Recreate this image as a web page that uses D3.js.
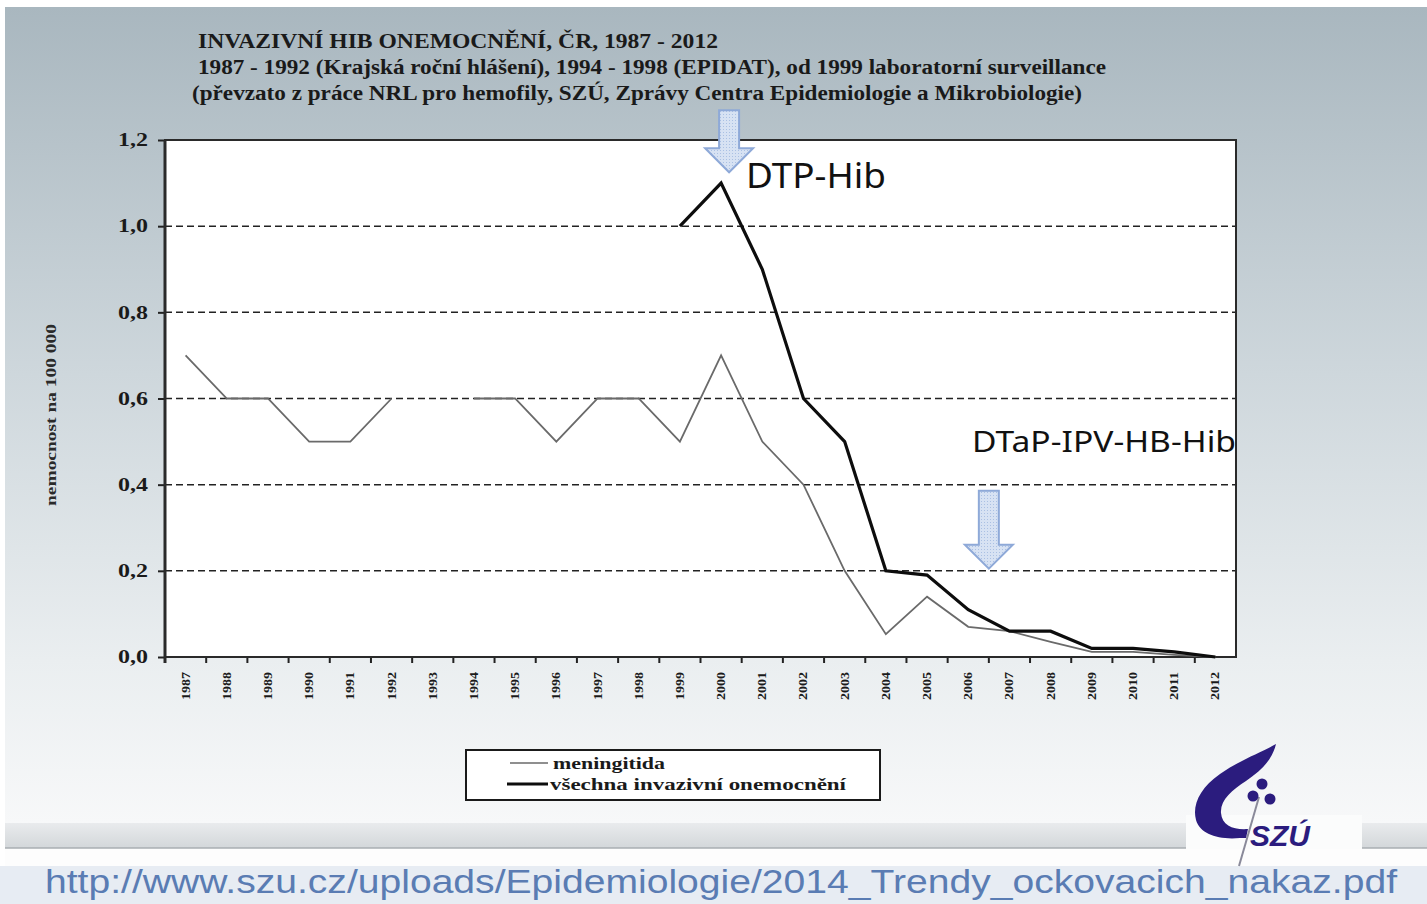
<!DOCTYPE html>
<head>
  <meta charset="utf-8">
  <title>Invazivni Hib onemocneni</title>
  <script src="https://cdn.jsdelivr.net/npm/d3@7/dist/d3.min.js"></script>
  <style>
    body { margin: 0; background: #fff; }
    svg { display: block; }
  </style>
</head>

<body>

  <script type="text/javascript">
    var WIDTH = 1427;
    var HEIGHT = 904;

    //===========data
    var years = ["1987","1988","1989","1990","1991","1992","1993","1994","1995","1996","1997","1998","1999",
                 "2000","2001","2002","2003","2004","2005","2006","2007","2008","2009","2010","2011","2012"];
    // null = no data that year
    var meningitida = [0.7, 0.6, 0.6, 0.5, 0.5, 0.6, null, 0.6, 0.6, 0.5, 0.6, 0.6, 0.5,
                       0.7, 0.5, 0.4, 0.2, 0.053, 0.14, 0.07, 0.06, 0.035, 0.012, 0.012, 0.005, 0.0];
    var vsechna = [null, null, null, null, null, null, null, null, null, null, null, null, 1.0,
                   1.1, 0.9, 0.6, 0.5, 0.2, 0.19, 0.11, 0.06, 0.06, 0.02, 0.02, 0.012, 0.0];
    var yTicks = [0, 0.2, 0.4, 0.6, 0.8, 1.0, 1.2];
    var titleLines = ["INVAZIVNÍ HIB ONEMOCNĚNÍ, ČR, 1987 - 2012",
                      "1987 - 1992 (Krajská roční hlášení), 1994 - 1998 (EPIDAT), od 1999 laboratorní surveillance",
                      "(převzato z práce  NRL pro hemofily, SZÚ, Zprávy Centra Epidemiologie a Mikrobiologie)"];
    var seriesNames = ["meningitida", "všechna invazivní onemocnění"];
    var vaccines = [{name: "DTP-Hib", year: "2000", edge: false, value: 1.125},
                    {name: "DTaP-IPV-HB-Hib", year: "2007", edge: true, value: 0.205}];
    var sourceUrl = "http://www.szu.cz/uploads/Epidemiologie/2014_Trendy_ockovacich_nakaz.pdf";

    var svg = d3.select("body").append("svg")
                .attr("width", WIDTH)
                .attr("height", HEIGHT);

    //===========slide background
    var defs = svg.append("defs");
    var bg = defs.append("linearGradient").attr("id", "bg")
                 .attr("x1", 0).attr("y1", 0).attr("x2", 0).attr("y2", 1);
    bg.append("stop").attr("offset", "0%").attr("stop-color", "#a9b7bf");
    bg.append("stop").attr("offset", "45%").attr("stop-color", "#ced7dc");
    bg.append("stop").attr("offset", "80%").attr("stop-color", "#eaeef0");
    bg.append("stop").attr("offset", "100%").attr("stop-color", "#f7f8f9");
    var band = defs.append("linearGradient").attr("id", "band")
                   .attr("x1", 0).attr("y1", 0).attr("x2", 0).attr("y2", 1);
    band.append("stop").attr("offset", "0%").attr("stop-color", "#e9ebed");
    band.append("stop").attr("offset", "100%").attr("stop-color", "#d3d7da");
    var arrowFill = defs.append("pattern").attr("id", "arrowFill")
                        .attr("width", 3).attr("height", 3).attr("patternUnits", "userSpaceOnUse");
    arrowFill.append("rect").attr("width", 3).attr("height", 3).attr("fill", "#d7e2f3");
    arrowFill.append("rect").attr("width", 1).attr("height", 1).attr("fill", "#aac0e3");

    svg.append("rect").attr("x", 0).attr("y", 0).attr("width", WIDTH).attr("height", HEIGHT).attr("fill", "#fff");
    svg.append("rect").attr("x", 5).attr("y", 7).attr("width", WIDTH - 5).attr("height", 816).attr("fill", "url(#bg)");
    svg.append("rect").attr("x", 5).attr("y", 823).attr("width", WIDTH - 5).attr("height", 25).attr("fill", "url(#band)");
    svg.append("line").attr("x1", 5).attr("x2", WIDTH).attr("y1", 848).attr("y2", 848)
       .attr("stroke", "#a9aeb2").attr("stroke-width", 1.5);
    svg.append("rect").attr("x", 5).attr("y", 849).attr("width", WIDTH - 5).attr("height", 17).attr("fill", "#fdfdfd");
    svg.append("rect").attr("x", 0).attr("y", 866).attr("width", WIDTH).attr("height", 38).attr("fill", "#e7ecf3");

    //===========title
    var titleWidths = [520, 908, 890];
    var titleX = [198, 198, 192];
    svg.append("g").selectAll("text")
       .data(titleLines)
       .enter().append("text")
       .attr("x", function(d, i){ return titleX[i]; })
       .attr("y", function(d, i){ return 48 + i * 26; })
       .attr("textLength", function(d, i){ return titleWidths[i]; })
       .attr("lengthAdjust", "spacingAndGlyphs")
       .attr("font-family", "Liberation Serif, serif")
       .attr("font-weight", "bold")
       .attr("font-size", 20)
       .attr("fill", "#1a1a1a")
       .text(function(d){ return d; });

    //===========scales
    var PL = 165, PR = 1236, PT = 140, PB = 657;
    var x = d3.scaleBand().domain(years).range([PL, PR]).padding(0);
    var y = d3.scaleLinear().domain([0, 1.2]).range([PB, PT]);
    function cx(yr){ return x(yr) + x.bandwidth() / 2; }

    // plot area
    svg.append("rect").attr("x", PL).attr("y", PT).attr("width", PR - PL).attr("height", PB - PT)
       .attr("fill", "#fff");

    // dashed gridlines
    svg.append("g").selectAll("line")
       .data(yTicks.filter(function(d){ return d > 0 && d < 1.2; }))
       .enter().append("line")
       .attr("x1", PL).attr("x2", PR)
       .attr("y1", function(d){ return y(d); })
       .attr("y2", function(d){ return y(d); })
       .attr("stroke", "#222").attr("stroke-width", 1.5)
       .attr("stroke-dasharray", "7,4");

    // y axis
    var yAxis = d3.axisLeft(y)
                  .tickValues(yTicks)
                  .tickSize(7)
                  .tickFormat(function(d){ return d3.format(".1f")(d).replace(".", ","); });
    var gy = svg.append("g").attr("transform", "translate(" + PL + ",0)").call(yAxis);
    gy.select(".domain").remove();
    gy.selectAll(".tick line").attr("stroke", "#222").attr("stroke-width", 2);
    gy.selectAll(".tick text")
      .attr("x", -17).attr("dy", "0.3em")
      .attr("textLength", 30).attr("lengthAdjust", "spacingAndGlyphs")
      .attr("font-family", "Liberation Serif, serif")
      .attr("font-weight", "bold").attr("font-size", 19).attr("fill", "#1a1a1a");

    // x axis: ticks at category boundaries, labels rotated
    var gx = svg.append("g");
    gx.selectAll("line")
      .data(years.slice(1))
      .enter().append("line")
      .attr("x1", function(d){ return x(d); })
      .attr("x2", function(d){ return x(d); })
      .attr("y1", PB).attr("y2", PB + 6)
      .attr("stroke", "#222").attr("stroke-width", 2);
    gx.selectAll("text")
      .data(years)
      .enter().append("text")
      .attr("transform", function(d){ return "translate(" + (cx(d) + 4) + "," + (PB + 15) + ") rotate(-90)"; })
      .attr("text-anchor", "end")
      .attr("textLength", 28)
      .attr("lengthAdjust", "spacingAndGlyphs")
      .attr("font-family", "Liberation Serif, serif")
      .attr("font-weight", "bold").attr("font-size", 13).attr("fill", "#1a1a1a")
      .text(function(d){ return d; });

    // frame
    svg.append("rect").attr("x", PL).attr("y", PT).attr("width", PR - PL).attr("height", PB - PT)
       .attr("fill", "none").attr("stroke", "#2a2a2a").attr("stroke-width", 2);
    svg.append("line").attr("x1", PL).attr("x2", PL).attr("y1", PT).attr("y2", PB + 6)
       .attr("stroke", "#2a2a2a").attr("stroke-width", 3);

    // y label
    svg.append("text")
       .attr("transform", "translate(56,415) rotate(-90)")
       .attr("text-anchor", "middle")
       .attr("textLength", 182)
       .attr("lengthAdjust", "spacingAndGlyphs")
       .attr("font-family", "Liberation Serif, serif")
       .attr("font-weight", "bold").attr("font-size", 15).attr("fill", "#2a2a2a")
       .text("nemocnost na 100 000");

    //===========lines
    var line = d3.line()
                 .defined(function(d){ return d.v != null; })
                 .x(function(d){ return cx(d.year); })
                 .y(function(d){ return y(d.v); });
    function toPoints(arr){
      return years.map(function(yr, i){ return {year: yr, v: arr[i]}; });
    }
    svg.append("path").attr("d", line(toPoints(meningitida)))
       .attr("fill", "none").attr("stroke", "#6a6a6a").attr("stroke-width", 1.8)
       .attr("stroke-linejoin", "miter");
    svg.append("path").attr("d", line(toPoints(vsechna)))
       .attr("fill", "none").attr("stroke", "#0d0d0d").attr("stroke-width", 3.2)
       .attr("stroke-linejoin", "miter");

    //===========vaccine arrows + labels
    function arrowPath(tx, ty, h){
      // downward block arrow ending in the point (tx, ty)
      return "M" + (tx - 10) + "," + (ty - h) +
             " L" + (tx + 10) + "," + (ty - h) +
             " L" + (tx + 10) + "," + (ty - 24) +
             " L" + (tx + 24) + "," + (ty - 24) +
             " L" + tx + "," + ty +
             " L" + (tx - 24) + "," + (ty - 24) +
             " L" + (tx - 10) + "," + (ty - 24) + " Z";
    }
    var arrowShift = [8, 0];
    var arrowLen = [62, 78];
    vaccines.forEach(function(v, i){
      var tx = (v.edge ? x(v.year) : cx(v.year)) + arrowShift[i];
      var ty = y(v.value);
      svg.append("path").attr("d", arrowPath(tx, ty, arrowLen[i]))
         .attr("fill", "url(#arrowFill)").attr("stroke", "#8ea9d8").attr("stroke-width", 2);
    });
    svg.append("text").attr("x", 746).attr("y", 188)
       .attr("textLength", 140).attr("lengthAdjust", "spacingAndGlyphs")
       .attr("font-family", "Noto Sans, Open Sans, sans-serif")
       .attr("font-size", 35).attr("fill", "#111")
       .text(vaccines[0].name);
    svg.append("text").attr("x", 972).attr("y", 452)
       .attr("textLength", 264).attr("lengthAdjust", "spacingAndGlyphs")
       .attr("font-family", "Noto Sans, Open Sans, sans-serif")
       .attr("font-size", 29).attr("fill", "#111")
       .text(vaccines[1].name);

    //===========legend
    var lg = svg.append("g");
    lg.append("rect").attr("x", 466).attr("y", 750).attr("width", 414).attr("height", 50)
      .attr("fill", "#fff").attr("stroke", "#1a1a1a").attr("stroke-width", 2);
    var legendStyle = [{stroke: "#6a6a6a", w: 1.5, x1: 510, tx: 553, tl: 112},
                       {stroke: "#0d0d0d", w: 3.2, x1: 507, tx: 550, tl: 296}];
    lg.selectAll(".item")
      .data(seriesNames)
      .enter().append("g").attr("class", "item")
      .each(function(d, i){
        var g = d3.select(this);
        var s = legendStyle[i];
        var ly = 763 + i * 21;
        g.append("line").attr("x1", s.x1).attr("x2", 548).attr("y1", ly).attr("y2", ly)
         .attr("stroke", s.stroke).attr("stroke-width", s.w);
        g.append("text").attr("x", s.tx).attr("y", ly + 6)
         .attr("textLength", s.tl).attr("lengthAdjust", "spacingAndGlyphs")
         .attr("font-family", "Liberation Serif, serif")
         .attr("font-weight", "bold").attr("font-size", 17).attr("fill", "#1a1a1a")
         .text(d);
      });

    //===========SZU logo
    var logo = svg.append("g");
    logo.append("rect").attr("x", 1186).attr("y", 815).attr("width", 176).attr("height", 34).attr("fill", "#fbfcfc");
    logo.append("line").attr("x1", 1259).attr("y1", 797).attr("x2", 1239).attr("y2", 866)
        .attr("stroke", "#8a8a9a").attr("stroke-width", 2);
    logo.append("path")
        .attr("d", "M1276,744 C1262,752 1240,760 1220,774 C1200,788 1192,805 1196,820 " +
                   "C1200,834 1218,840 1240,838 L1246,838 L1248,829 C1234,830 1222,826 1221,813 " +
                   "C1220,800 1232,790 1246,781 C1262,770 1272,760 1276,744 Z")
        .attr("fill", "#2b1c7e");
    [[1262, 784], [1253, 796], [1270, 799]].forEach(function(p){
      logo.append("circle").attr("cx", p[0]).attr("cy", p[1]).attr("r", 5.5).attr("fill", "#2b1c7e");
    });
    logo.append("text").attr("x", 1250).attr("y", 846)
        .attr("font-family", "Liberation Sans, sans-serif")
        .attr("font-style", "italic").attr("font-weight", "bold")
        .attr("font-size", 30).attr("fill", "#2b1c7e")
        .text("SZÚ");

    //===========source url
    svg.append("text").attr("x", 45).attr("y", 893)
       .attr("textLength", 1352).attr("lengthAdjust", "spacingAndGlyphs")
       .attr("font-family", "Liberation Sans, Arial, sans-serif")
       .attr("font-size", 34).attr("fill", "#5a7cb3")
       .text(sourceUrl);

  </script>
</body>
